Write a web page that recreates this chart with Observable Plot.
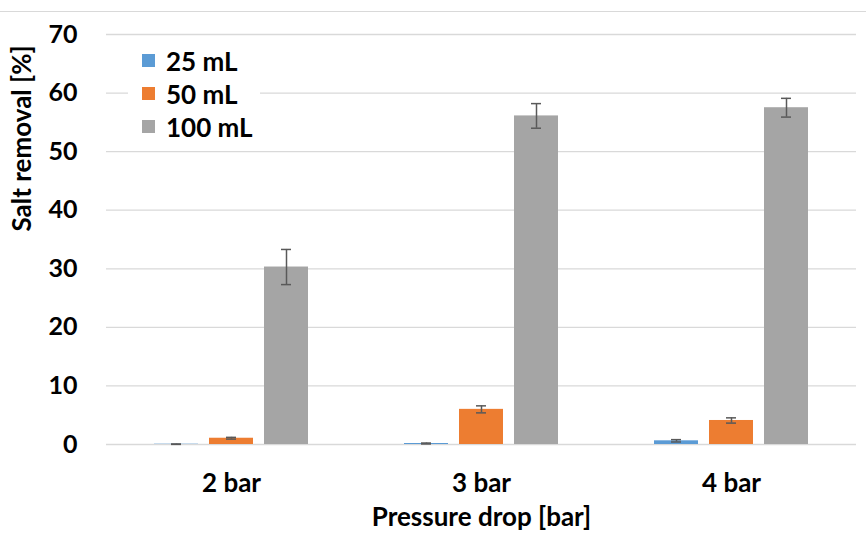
<!DOCTYPE html>
<html>
<head>
<meta charset="utf-8">
<script src="https://cdn.jsdelivr.net/npm/d3@7"></script>
<script src="https://cdn.jsdelivr.net/npm/@observablehq/plot@0.6"></script>
<style>
  html, body { margin: 0; padding: 0; background: #fff; }
  #wrap { position: relative; width: 866px; height: 534px; overflow: hidden; font-family: Lato, "Open Sans", sans-serif; }
  #wrap svg { position: absolute; left: 0; top: 0; }
  #topline { position: absolute; left: 0; top: 11px; width: 866px; border-top: 1.5px solid #d9d9d9; }
  #legend { position: absolute; left: 128px; top: 44px; width: 132px; padding: 0; background: #fff; }
  .row { height: 33px; display: flex; align-items: center; font-weight: 700; font-size: 26px; color: #000; }
  .sw { width: 13px; height: 13px; margin-left: 14px; margin-right: 11px; }
</style>
</head>
<body>
<div id="wrap"><div id="topline"></div></div>
<script>
const categories = ["2 bar", "3 bar", "4 bar"];
const series = ["25 mL", "50 mL", "100 mL"];
const colors = ["#5B9BD5", "#ED7D31", "#A5A5A5"];
const values25 = [0.05, 0.17, 0.63];
const errors25 = [0.03, 0.08, 0.2];
const values50 = [1.07, 6.0, 4.1];
const errors50 = [0.15, 0.6, 0.45];
const values100 = [30.3, 56.1, 57.5];
const errors100 = [3.0, 2.1, 1.6];
const yTicks = [0, 10, 20, 30, 40, 50, 60, 70];
const yTitle = "Salt removal [%]";
const xTitle = "Pressure drop [bar]";

const valueSets = [values25, values50, values100];
const errorSets = [errors25, errors50, errors100];
const data = [];
categories.forEach((c, i) => {
  series.forEach((s, j) => {
    data.push({cat: c, series: s, v: valueSets[j][i], e: errorSets[j][i]});
  });
});

const chart = Plot.plot({
  width: 866,
  height: 534,
  marginLeft: 106,
  marginRight: 10,
  marginTop: 34,
  marginBottom: 90,
  style: {fontFamily: "Lato, 'Open Sans', sans-serif", fontWeight: "700", color: "#000", background: "transparent"},
  fx: {domain: categories, paddingInner: 0.384, paddingOuter: 0.192, label: null},
  x: {domain: series, paddingInner: 0.2, paddingOuter: 0, axis: null},
  y: {domain: [0, 70], ticks: yTicks},
  color: {domain: series, range: colors},
  marks: [
    Plot.ruleY(yTicks, {y: d => d, stroke: "#d9d9d9", strokeWidth: 1.3, insetLeft: -48, insetRight: -48}),
    Plot.barY(data, {fx: "cat", x: "series", y: "v", fill: "series"}),
    Plot.ruleX(data, {fx: "cat", x: "series", y1: d => d.v - d.e, y2: d => d.v + d.e, stroke: "#595959", strokeWidth: 1.5}),
    Plot.tickY(data, {fx: "cat", x: "series", y: d => d.v - d.e, stroke: "#595959", strokeWidth: 1.5, insetLeft: 17, insetRight: 17}),
    Plot.tickY(data, {fx: "cat", x: "series", y: d => d.v + d.e, stroke: "#595959", strokeWidth: 1.5, insetLeft: 17, insetRight: 17}),
    Plot.axisY(yTicks, {tickSize: 0, tickPadding: 77, fontSize: 25, label: null}),
    Plot.text([yTitle], {text: d => d, frameAnchor: "left", facetAnchor: "left", rotate: -90, dx: -132, dy: -8, fontSize: 26, fontWeight: 700, fill: "#000"}),
    Plot.axisFx({anchor: "bottom", tickSize: 0, tickPadding: 29, fontSize: 26, label: xTitle, labelAnchor: "center", labelArrow: "none", labelOffset: 81})
  ]
});
document.getElementById("wrap").appendChild(chart);

const legend = document.createElement("div");
legend.id = "legend";
series.forEach((s, j) => {
  const row = document.createElement("div");
  row.className = "row";
  const sw = document.createElement("span");
  sw.className = "sw";
  sw.style.background = colors[j];
  const t = document.createElement("span");
  t.textContent = s;
  row.appendChild(sw);
  row.appendChild(t);
  legend.appendChild(row);
});
document.getElementById("wrap").appendChild(legend);
</script>
</body>
</html>
